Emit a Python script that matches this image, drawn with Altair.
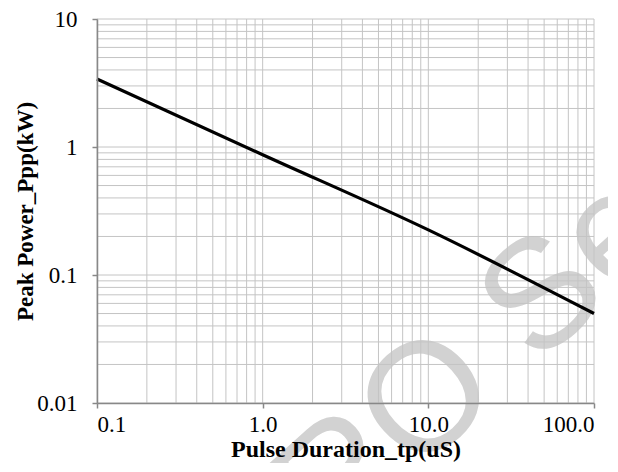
import altair as alt
import pandas as pd

# Curve data
tp = [0.1, 1.0, 10.0, 100.0]
ppk = [3.4, 0.87, 0.225, 0.05]

x_decades = [0.1, 1.0, 10.0, 100.0]
y_decades = [0.01, 0.1, 1.0, 10.0]
x_grid = [m * d for d in [0.1, 1.0, 10.0] for m in range(1, 10)] + [100.0]
y_grid = [m * d for d in [0.01, 0.1, 1.0] for m in range(1, 10)] + [10.0]

curve = pd.DataFrame({"tp": tp, "ppk": ppk})
xg = pd.DataFrame({"x": x_grid})
yg = pd.DataFrame({"y": y_grid})

xs = alt.Scale(type="log", domain=[0.1, 100], nice=False)
ys = alt.Scale(type="log", domain=[0.01, 10], nice=False)
GRID = "#c4c4c4"
FONT = "Liberation Serif"

x_axis = alt.Axis(values=x_decades, format=".1f", grid=False,
                  title="Pulse Duration_tp(uS)", tickSize=5,
                  tickColor="#888", domainColor="#888",
                  labelPadding=5, titlePadding=1, titleFontSize=24,
                  zindex=1)
y_axis = alt.Axis(values=y_decades, format="~g", grid=False,
                  title="Peak Power_Ppp(kW)", tickSize=5,
                  tickColor="#888", domainColor="#888",
                  labelPadding=15, titleFontSize=23,
                  titleX=-72, titleBaseline="middle", zindex=1)

watermark = alt.Chart(pd.DataFrame({"t": ["RO Ser"]})).mark_text(
    fontSize=155, font="Liberation Sans", color="#d2d2d2", angle=318,
    align="center", baseline="middle"
).encode(text="t:N", x=alt.value(395), y=alt.value(324))

vgrid = alt.Chart(xg).mark_rule(color=GRID, strokeWidth=1).encode(
    x=alt.X("x:Q", scale=xs, axis=x_axis)
)
hgrid = alt.Chart(yg).mark_rule(color=GRID, strokeWidth=1).encode(
    y=alt.Y("y:Q", scale=ys, axis=y_axis)
)

line = alt.Chart(curve).mark_line(color="black", strokeWidth=3.2,
                                  interpolate="monotone").encode(
    x=alt.X("tp:Q", scale=xs, axis=x_axis),
    y=alt.Y("ppk:Q", scale=ys, axis=y_axis),
)

chart = alt.layer(watermark, vgrid, hgrid, line).properties(
    width=497, height=384,
    background="white",
    autosize=alt.AutoSizeParams(type="none"),
    padding={"left": 89, "top": 11, "right": 14, "bottom": 60},
).configure_view(stroke=None).configure_axis(
    labelFont=FONT, titleFont=FONT, labelFontSize=23,
    labelColor="black", titleColor="black", titleFontWeight="bold",
    domainWidth=1.5, tickWidth=1.5
)

chart.save("out.html", embed_options={"renderer": "svg", "actions": False})
